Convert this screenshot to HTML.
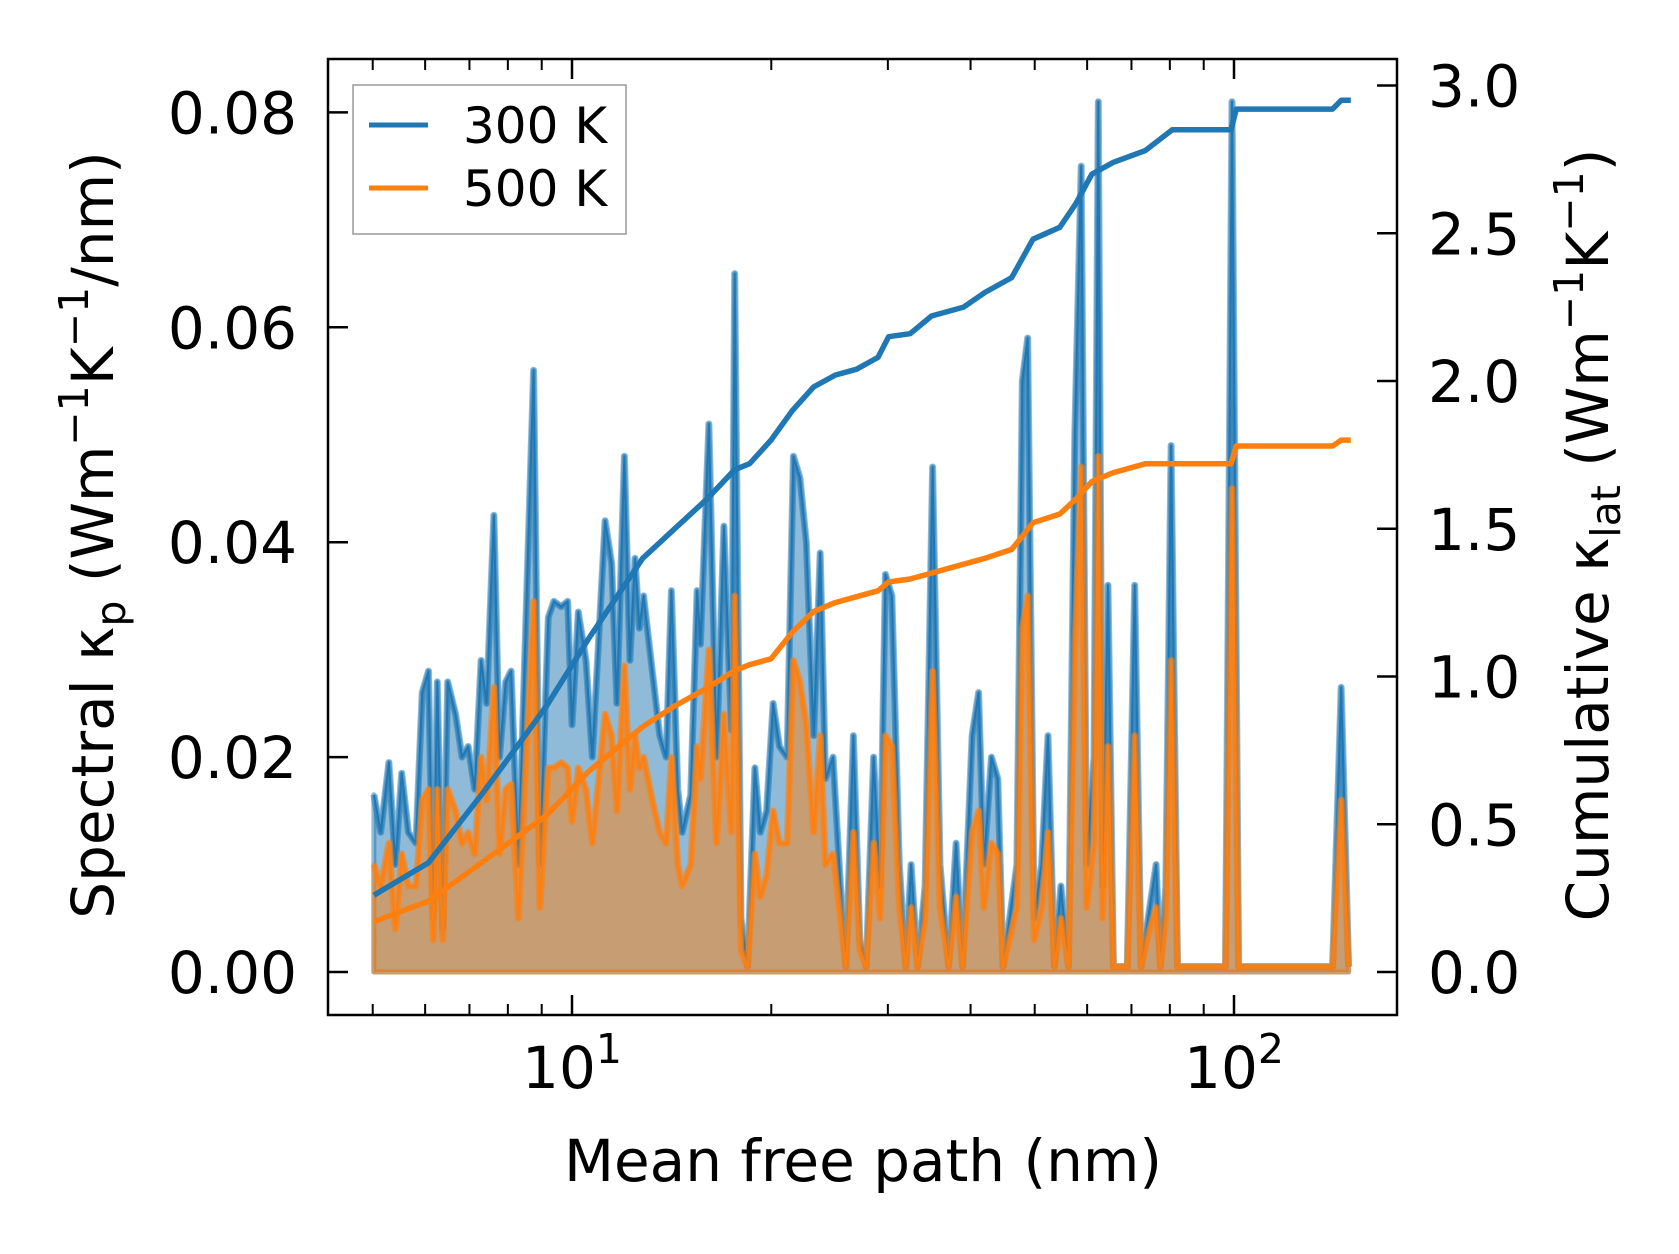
<!DOCTYPE html>
<html><head><meta charset="utf-8">
<style>
html,body{margin:0;padding:0;background:#fff;}
svg{display:block;font-family:"DejaVu Sans","Liberation Sans",sans-serif;}
</style></head>
<body>
<svg id="chart" width="1679" height="1254" viewBox="0 0 1679 1254" xmlns="http://www.w3.org/2000/svg">
<rect width="1679" height="1254" fill="#fff"/>
<g id="plot"></g>
<g id="axes"></g>
</svg>
<script>
// ---- data ----
const mfp = [5.02,5.14,5.29,5.41,5.53,5.66,5.81,5.94,6.07,6.17,6.26,6.38,6.49,6.67,6.82,6.97,7.13,7.29,7.43,7.62,7.77,7.94,8.09,8.30,8.75,8.94,9.21,9.39,9.63,9.85,10.0,10.22,10.50,10.73,11.22,11.48,11.69,12.00,12.23,12.45,12.64,12.83,13.22,13.57,13.87,14.13,14.45,14.67,15.11,15.45,15.63,16.10,16.53,16.96,17.41,17.61,18.00,18.41,18.89,19.25,19.68,20.13,20.58,21.13,21.60,22.09,22.59,23.18,23.71,24.15,24.79,25.44,25.92,26.61,27.21,27.82,28.55,29.20,29.75,30.42,31.22,31.93,32.53,33.27,34.15,35.05,35.97,37.06,38.04,38.90,40.22,41.13,41.90,43.01,43.98,44.80,47.00,47.88,48.79,49.89,51.21,52.37,53.55,54.76,56.21,57.47,58.77,59.88,61.46,62.38,63.32,64.51,65.73,69.0,70.79,72.39,74.58,76.26,77.41,78.87,80.35,82.16,97.1,99.3,101.6,140.9,145.2,149.0];
const spec300 = [0.0165,0.013,0.0195,0.010,0.0185,0.013,0.012,0.026,0.028,0.005,0.027,0.004,0.027,0.024,0.020,0.021,0.017,0.029,0.025,0.0425,0.020,0.027,0.028,0.010,0.056,0.010,0.033,0.0345,0.034,0.0345,0.023,0.0335,0.029,0.020,0.042,0.038,0.025,0.048,0.029,0.0385,0.032,0.035,0.028,0.022,0.020,0.0355,0.017,0.013,0.0165,0.0355,0.0305,0.051,0.020,0.0415,0.0225,0.065,0.005,0.0005,0.019,0.013,0.015,0.025,0.021,0.020,0.048,0.046,0.040,0.022,0.039,0.018,0.020,0.008,0.0005,0.022,0.003,0.0005,0.020,0.008,0.037,0.035,0.010,0.0005,0.010,0.0005,0.008,0.047,0.010,0.0005,0.012,0.0005,0.022,0.026,0.010,0.020,0.018,0.0005,0.010,0.055,0.059,0.005,0.010,0.022,0.0005,0.008,0.0005,0.050,0.075,0.010,0.020,0.081,0.008,0.036,0.0005,0.0005,0.036,0.0005,0.006,0.010,0.0005,0.008,0.049,0.0005,0.0005,0.081,0.0005,0.0005,0.0265,0.0005];
const spec500 = [0.010,0.008,0.012,0.004,0.011,0.008,0.008,0.016,0.017,0.003,0.017,0.003,0.017,0.015,0.012,0.013,0.011,0.020,0.016,0.0265,0.011,0.017,0.0175,0.005,0.0345,0.006,0.019,0.019,0.0195,0.019,0.014,0.019,0.017,0.012,0.024,0.022,0.015,0.0285,0.017,0.022,0.019,0.020,0.016,0.013,0.012,0.020,0.010,0.008,0.010,0.021,0.018,0.030,0.012,0.024,0.013,0.035,0.002,0.0005,0.011,0.007,0.009,0.015,0.012,0.012,0.029,0.027,0.023,0.013,0.022,0.010,0.011,0.005,0.0005,0.013,0.002,0.0005,0.012,0.005,0.022,0.021,0.006,0.0005,0.006,0.0005,0.005,0.028,0.006,0.0005,0.007,0.0005,0.013,0.015,0.006,0.012,0.011,0.0005,0.006,0.032,0.035,0.003,0.006,0.013,0.0005,0.005,0.0005,0.030,0.047,0.006,0.012,0.048,0.005,0.021,0.0005,0.0005,0.022,0.0005,0.004,0.006,0.0005,0.005,0.029,0.0005,0.0005,0.045,0.0005,0.0005,0.016,0.0005];
const cumMfp = [5.02,6.07,7.30,8.18,9.15,10.61,12.79,14.29,15.98,17.61,18.55,19.98,21.52,23.18,24.98,26.91,28.99,30.08,32.41,34.92,39.04,42.06,46.15,49.71,54.56,57.68,61.01,65.73,73.48,80.65,98.97,100.8,140.9,145.2,150.1];
const cum300 = [0.26,0.37,0.60,0.75,0.90,1.13,1.40,1.50,1.60,1.70,1.72,1.80,1.90,1.98,2.02,2.04,2.08,2.15,2.16,2.22,2.25,2.30,2.35,2.48,2.52,2.60,2.70,2.74,2.78,2.85,2.85,2.92,2.92,2.95,2.95];
const cum500 = [0.17,0.24,0.37,0.45,0.53,0.68,0.83,0.90,0.96,1.02,1.04,1.06,1.15,1.22,1.25,1.27,1.29,1.32,1.33,1.35,1.38,1.40,1.43,1.52,1.55,1.60,1.66,1.69,1.72,1.72,1.72,1.78,1.78,1.80,1.80];
const yTicksL = [0,0.02,0.04,0.06,0.08];
const yTickLabelsL = ["0.00","0.02","0.04","0.06","0.08"];
const yTicksR = [0,0.5,1.0,1.5,2.0,2.5,3.0];
const yTickLabelsR = ["0.0","0.5","1.0","1.5","2.0","2.5","3.0"];
const xMajor = [10,100];
const xMinor = [5,6,7,8,9,20,30,40,50,60,70,80,90];

// ---- geometry ----
const L=328,R=1397,T=59,B=1015;
const x = v => 572 + 662*(Math.log10(v)-1);
const yL = v => 972 - v*(214.9/0.02);
const yR = v => 972 - v*295.5;
const NS='http://www.w3.org/2000/svg';
const plot=document.getElementById('plot'), axes=document.getElementById('axes');
function mk(tag,attrs,parent){const e=document.createElementNS(NS,tag);for(const k in attrs)e.setAttribute(k,attrs[k]);parent.appendChild(e);return e;}

function specSeries(vals,color,name){
  const pts=mfp.map((m,i)=>x(m).toFixed(1)+','+yL(vals[i]).toFixed(1));
  const area=mk('path',{d:'M'+x(mfp[0])+','+yL(0)+' L'+pts.join(' L')+' L'+x(mfp[mfp.length-1])+','+yL(0)+' Z',fill:color,'fill-opacity':0.5,stroke:color,'stroke-opacity':0.5,'stroke-width':5,'stroke-linejoin':'round'},plot);
  
  
  const ln=mk('polyline',{points:pts.join(' '),fill:'none',stroke:color,'stroke-width':7,'stroke-opacity':0.5,'stroke-linejoin':'round'},plot);
  
  
  const ln2=mk('polyline',{points:pts.join(' '),fill:'none',stroke:color,'stroke-width':2,'stroke-linejoin':'round'},plot);
  
  
}
specSeries(spec300,'#1f77b4','k300');
specSeries(spec500,'#ff7f0e','k500');
function cumLine(vals,color,name){
  const pts=cumMfp.map((m,i)=>x(m).toFixed(1)+','+yR(vals[i]).toFixed(1));
  const l=mk('polyline',{points:pts.join(' '),fill:'none',stroke:color,'stroke-width':5.5,'stroke-linejoin':'round'},plot);
  
  
}
cumLine(cum300,'#1f77b4','cumulative-300k-line');
cumLine(cum500,'#ff7f0e','cumulative-500k-line');

const fr=mk('rect',{x:L,y:T,width:R-L,height:B-T,fill:'none',stroke:'#000','stroke-width':2.5},axes);


function tick(x1,y1,x2,y2,w){mk('line',{x1,y1,x2,y2,stroke:'#000','stroke-width':w},axes);}
yTicksL.forEach((v,i)=>{const y=yL(v);tick(L,y,L+20,y,2.5);
  const t=mk('text',{x:297,y:y+21,'text-anchor':'end','font-size':58},axes);t.textContent=yTickLabelsL[i];
  
  });
yTicksR.forEach((v,i)=>{const y=yR(v);tick(R,y,R-20,y,2.5);
  const t=mk('text',{x:1428,y:y+21,'font-size':58},axes);t.textContent=yTickLabelsR[i];
  
  });
xMajor.forEach(v=>{const xx=x(v);tick(xx,B,xx,B-20,2.5);tick(xx,T,xx,T+20,2.5);
  const t=mk('text',{x:xx,y:1088,'text-anchor':'middle','font-size':58},axes);
  
  
  t.textContent='10';const s=mk('tspan',{'font-size':41,dy:-25},t);s.textContent=String(Math.round(Math.log10(v)));});
xMinor.forEach(v=>{const xx=x(v);tick(xx,B,xx,B-11,2);tick(xx,T,xx,T+11,2);});
</script>
<svg style="position:absolute;left:0;top:0" width="1679" height="1254" xmlns="http://www.w3.org/2000/svg" font-family="DejaVu Sans, Liberation Sans, sans-serif">
<g>
<rect x="353" y="85" width="273" height="149" fill="#fff" fill-opacity="0.8" stroke="#999" stroke-width="1.5"/>
<line x1="369" y1="125" x2="428" y2="125" stroke="#1f77b4" stroke-width="5"/>
<text x="463" y="143" font-size="50">300 K</text>
<line x1="369" y1="188" x2="428" y2="188" stroke="#ff7f0e" stroke-width="5"/>
<text x="463" y="206" font-size="50">500 K</text>
</g>
<text x="863" y="1181" text-anchor="middle" font-size="58">Mean free path (nm)</text>
<text transform="translate(113,535) rotate(-90)" text-anchor="middle" font-size="58">Spectral κ<tspan font-size="41" dy="12">p</tspan><tspan dy="-12"> (Wm</tspan><tspan font-size="41" dy="-25">−1</tspan><tspan dy="25">K</tspan><tspan font-size="41" dy="-25">−1</tspan><tspan dy="25">/nm)</tspan></text>
<text transform="translate(1608,535) rotate(-90)" text-anchor="middle" font-size="58">Cumulative κ<tspan font-size="41" dy="12">lat</tspan><tspan dy="-12"> (Wm</tspan><tspan font-size="41" dy="-25">−1</tspan><tspan dy="25">K</tspan><tspan font-size="41" dy="-25">−1</tspan><tspan dy="25">)</tspan></text>
</svg>
</body></html>
